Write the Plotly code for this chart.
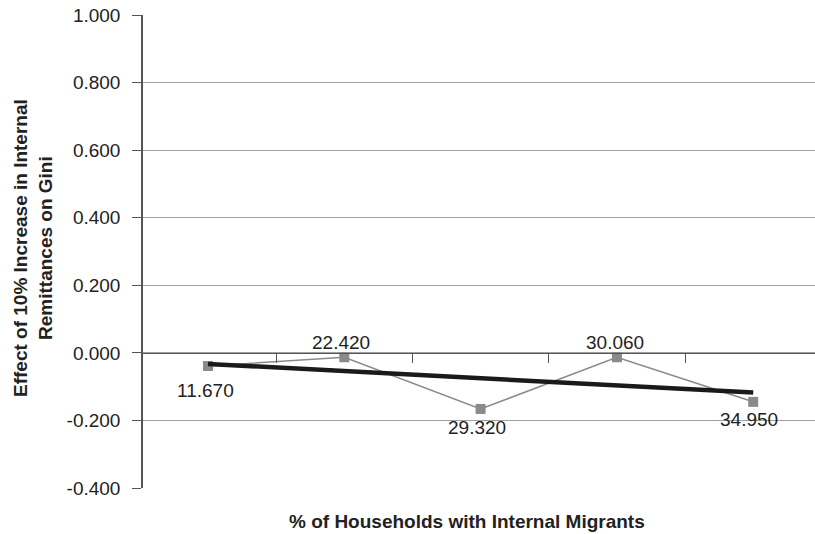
import numpy as np
import plotly.graph_objects as go

categories = ["11.670", "22.420", "29.320", "30.060", "34.950"]
effects = [-0.039, -0.013, -0.166, -0.013, -0.145]
y_ticks = [-0.4, -0.2, 0.0, 0.2, 0.4, 0.6, 0.8, 1.0]
y_tick_labels = ["-0.400", "-0.200", "0.000", "0.200", "0.400", "0.600", "0.800", "1.000"]

# label placement (style): pixel offsets of the data labels
label_dy = [-24, 15, -19, 15, -18]
label_dx = [-3, -3, -4, -2, -4]

idx = np.arange(len(categories))
coef = np.polyfit(idx, effects, 1)
trend = np.polyval(coef, idx)

W, H = 815, 534
L, T, B = 143, 15, 534 - 488
font = "Liberation Sans, Arial, sans-serif"
step = 136.3
r0 = -(208 - L) / step

fig = go.Figure()
fig.add_trace(go.Scatter(
    x=categories, y=effects, mode="lines+markers",
    line=dict(color="#8a8a8a", width=1.6),
    marker=dict(symbol="square", size=10, color="#8a8a8a"),
    cliponaxis=False, showlegend=False))
fig.add_trace(go.Scatter(
    x=categories, y=trend, mode="lines",
    line=dict(color="#1a1a1a", width=4.5), showlegend=False))

annotations = []
for i, (c, v, dy, dx) in enumerate(zip(categories, effects, label_dy, label_dx)):
    annotations.append(dict(x=i, y=v, xref="x", yref="y", text=c, showarrow=False,
                            xshift=dx, yshift=dy, xanchor="center", yanchor="middle",
                            font=dict(family=font, size=19, color="#222")))

fig.update_layout(
    width=W, height=H, margin=dict(l=L, r=0, t=T, b=B),
    paper_bgcolor="white", plot_bgcolor="white",
    font=dict(family=font, color="#222"),
    xaxis=dict(type="category", range=[r0, r0 + (W - L) / step],
               anchor="free", position=0.4 / 1.4,
               showline=True, linecolor="#555", linewidth=1.2,
               ticks="outside", ticklen=9, tickcolor="#555", tickson="boundaries",
               showticklabels=False, showgrid=False, zeroline=False),
    yaxis=dict(range=[-0.4, 1.0], tickvals=y_ticks, ticktext=y_tick_labels,
               domain=[0, 1],
               showline=True, linecolor="#555", linewidth=1.5,
               ticks="outside", ticklen=9, tickcolor="#555",
               ticklabelstandoff=8,
               tickfont=dict(size=19, color="#222"),
               showgrid=True, gridcolor="#a0a0a0", gridwidth=1.2,
               zeroline=False),
    annotations=annotations + [
        dict(text="<b>% of Households with Internal Migrants</b>",
             xref="paper", yref="paper", x=(467 - L) / (W - L), y=0,
             yshift=-(521 - 488), showarrow=False,
             font=dict(size=19, color="#222"), xanchor="center", yanchor="middle"),
        dict(text="<b>Effect of 10% Increase in Internal<br>Remittances on Gini</b>",
             xref="paper", yref="paper", x=0, xshift=-(L - 33), y=(488 - 248) / (488 - 15),
             textangle=-90, showarrow=False,
             font=dict(size=19, color="#222"), xanchor="center", yanchor="middle"),
    ],
)
fig.write_html("out.html")
